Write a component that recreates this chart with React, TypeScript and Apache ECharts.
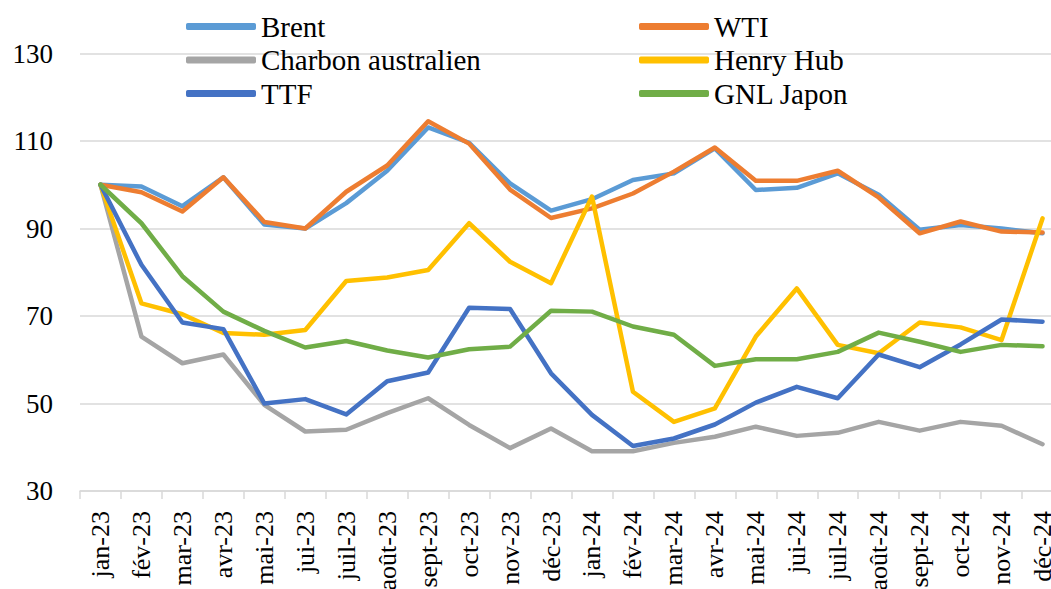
import React, { useEffect, useRef } from "react";
import * as echarts from "echarts";

const categories = ["jan-23","fév-23","mar-23","avr-23","mai-23","jui-23","juil-23","août-23","sept-23","oct-23","nov-23","déc-23","jan-24","fév-24","mar-24","avr-24","mai-24","jui-24","juil-24","août-24","sept-24","oct-24","nov-24","déc-24"];

const brent = [100, 99.6, 95.1, 101.7, 90.9, 90.0, 95.8, 103.2, 113.1, 109.6, 100.3, 94.1, 96.7, 101.1, 102.6, 108.3, 98.8, 99.3, 102.6, 97.7, 89.7, 90.8, 90.0, 88.9];
const wti = [100, 98.3, 93.9, 101.7, 91.5, 90.0, 98.4, 104.4, 114.5, 109.4, 98.9, 92.4, 94.6, 98.0, 103.0, 108.5, 100.9, 100.9, 103.2, 97.1, 88.9, 91.6, 89.3, 89.1];
const charbon = [100, 65.3, 59.2, 61.2, 49.7, 43.6, 44.0, 47.8, 51.2, 45.1, 39.8, 44.3, 39.1, 39.1, 41.0, 42.4, 44.7, 42.6, 43.3, 45.8, 43.8, 45.8, 44.9, 40.7];
const henryHub = [100, 72.9, 70.4, 66.1, 65.7, 66.8, 78.0, 78.8, 80.5, 91.2, 82.4, 77.5, 97.3, 52.7, 45.8, 48.9, 65.3, 76.3, 63.4, 61.5, 68.5, 67.4, 64.5, 92.3];
const ttf = [100, 81.7, 68.5, 67.0, 50.0, 51.0, 47.5, 55.1, 57.1, 71.9, 71.6, 56.9, 47.4, 40.3, 42.0, 45.2, 50.2, 53.8, 51.2, 61.2, 58.3, 63.5, 69.2, 68.7];
const gnlJapon = [100, 91.2, 79.1, 71.0, 66.6, 62.8, 64.3, 62.1, 60.5, 62.4, 63.0, 71.2, 71.0, 67.6, 65.7, 58.6, 60.1, 60.1, 61.8, 66.2, 64.1, 61.8, 63.4, 63.1];

const seriesDefs = [
  { name: "Brent", data: brent, color: "#5B9BD5" },
  { name: "WTI", data: wti, color: "#ED7D31" },
  { name: "Charbon australien", data: charbon, color: "#A5A5A5" },
  { name: "Henry Hub", data: henryHub, color: "#FFC000" },
  { name: "TTF", data: ttf, color: "#4472C4" },
  { name: "GNL Japon", data: gnlJapon, color: "#70AD47" },
];

const FONT = "'Liberation Serif', 'Times New Roman', serif";

export default function App() {
  const ref = useRef<HTMLDivElement>(null);
  useEffect(() => {
    document.body.style.margin = "0";
    if (!ref.current) return;
    const chart = echarts.init(ref.current, undefined, { renderer: "svg" });
    const legendCommon = {
      orient: "vertical" as const,
      top: 7,
      icon: "roundRect",
      itemWidth: 70,
      itemHeight: 7,
      itemGap: 4.5,
      textStyle: { fontFamily: FONT, fontSize: 29, color: "#000", lineHeight: 28 },
      selectedMode: false,
    };
    chart.setOption({
      animation: false,
      backgroundColor: "#fff",
      legend: [
        { ...legendCommon, left: 181, data: ["Brent", "Charbon australien", "TTF"] },
        { ...legendCommon, left: 634, data: ["WTI", "Henry Hub", "GNL Japon"] },
      ],
      grid: { left: 80, top: 53.5, width: 983, height: 437.5, containLabel: false, outerBoundsMode: "none" },
      xAxis: {
        type: "category",
        data: categories,
        boundaryGap: true,
        axisLine: { lineStyle: { color: "#D9D9D9", width: 1.5 } },
        axisTick: { show: true, length: 8, lineStyle: { color: "#D9D9D9", width: 1.5 }, alignWithLabel: false },
        axisLabel: { rotate: 90, interval: 0, margin: 20, fontFamily: FONT, fontSize: 26, color: "#000" },
      },
      yAxis: {
        type: "value",
        min: 30,
        max: 130,
        interval: 20,
        axisLine: { show: false },
        axisTick: { show: false },
        splitLine: { lineStyle: { color: "#D9D9D9", width: 1.5 } },
        axisLabel: { margin: 27, fontFamily: FONT, fontSize: 27, color: "#000" },
      },
      series: seriesDefs.map((s) => ({
        name: s.name,
        type: "line",
        data: s.data,
        symbol: "none",
        showSymbol: false,
        color: s.color,
        lineStyle: { width: 4.5, color: s.color, cap: "round", join: "round" },
      })),
    });
    return () => chart.dispose();
  }, []);
  return <div ref={ref} style={{ width: 1051, height: 589 }} />;
}
